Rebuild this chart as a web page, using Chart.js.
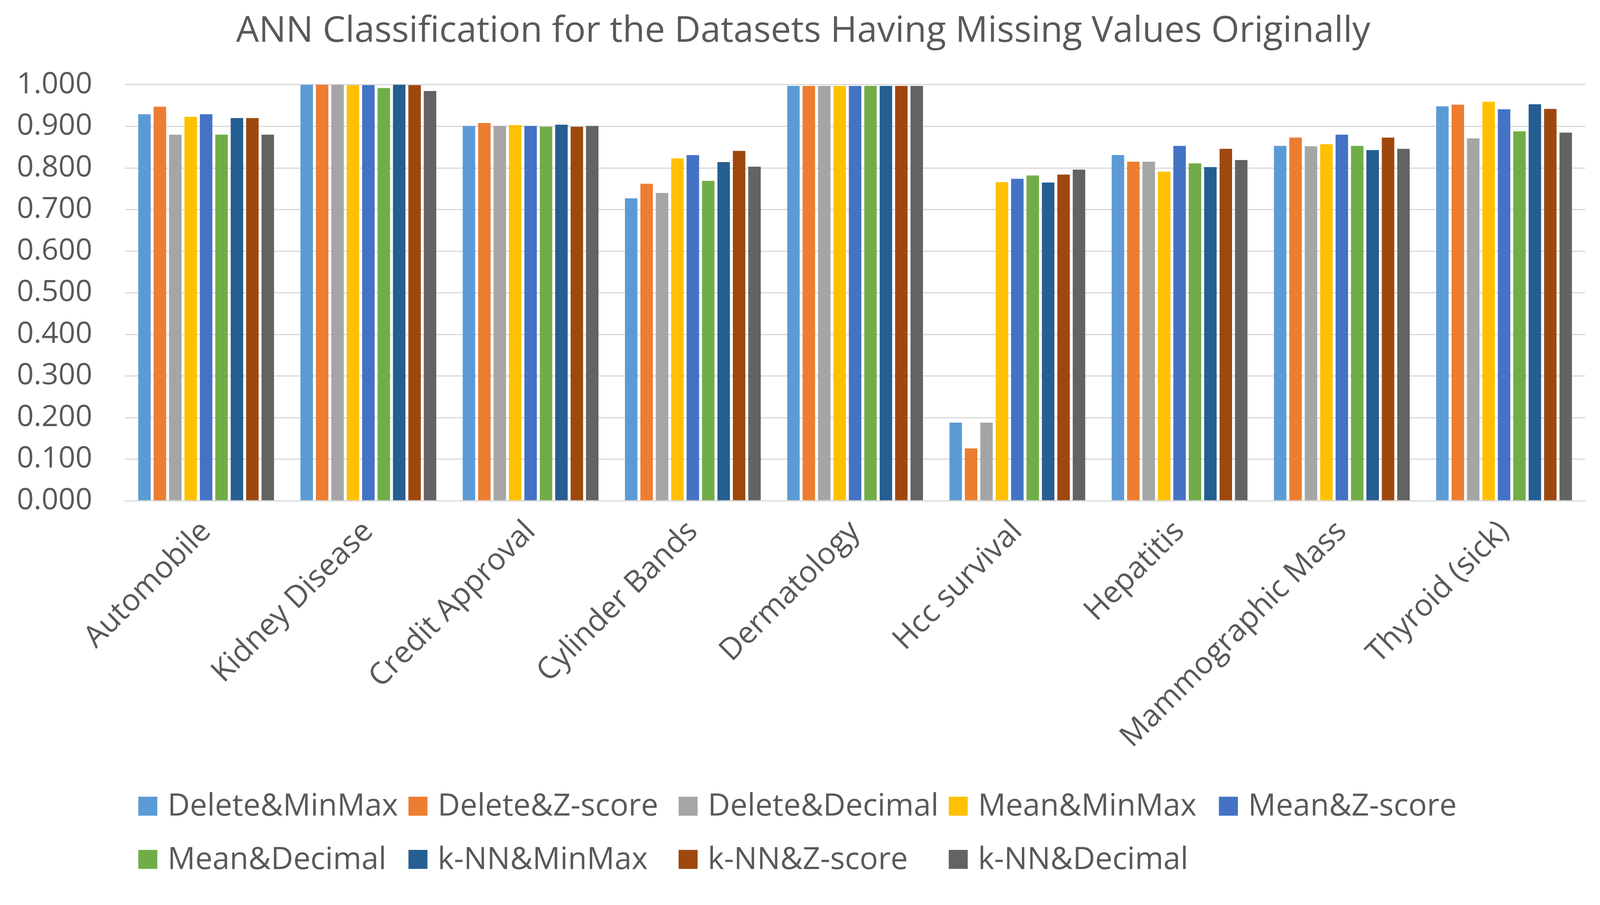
<!DOCTYPE html>
<html>
<head>
<meta charset="utf-8">
<script src="https://cdn.jsdelivr.net/npm/chart.js@4.4.0/dist/chart.umd.min.js"></script>
<style>
html,body{margin:0;padding:0;background:#fff;overflow:hidden;}
#wrap{position:relative;}
canvas{display:block;}
</style>
</head>
<body>
<div id="wrap"><canvas id="c"></canvas></div>
<script>
const chartTitle = 'ANN Classification for the Datasets Having Missing Values Originally';
const categories = ["Automobile","Kidney Disease","Credit Approval","Cylinder Bands","Dermatology","Hcc survival","Hepatitis","Mammographic Mass","Thyroid (sick)"];
const seriesNames = ["Delete&MinMax","Delete&Z-score","Delete&Decimal","Mean&MinMax","Mean&Z-score","Mean&Decimal","k-NN&MinMax","k-NN&Z-score","k-NN&Decimal"];
const deleteMinMax  = [0.929,1.000,0.901,0.727,0.997,0.188,0.831,0.853,0.948];
const deleteZscore  = [0.947,1.000,0.908,0.762,0.997,0.126,0.815,0.873,0.952];
const deleteDecimal = [0.880,1.000,0.901,0.740,0.997,0.188,0.815,0.852,0.871];
const meanMinMax    = [0.923,0.999,0.903,0.823,0.997,0.766,0.791,0.857,0.959];
const meanZscore    = [0.929,0.999,0.901,0.831,0.997,0.774,0.853,0.880,0.941];
const meanDecimal   = [0.880,0.992,0.899,0.769,0.997,0.782,0.811,0.853,0.888];
const knnMinMax     = [0.920,1.000,0.904,0.814,0.997,0.765,0.802,0.843,0.953];
const knnZscore     = [0.920,0.999,0.899,0.841,0.997,0.784,0.846,0.873,0.942];
const knnDecimal    = [0.880,0.985,0.901,0.803,0.997,0.796,0.819,0.846,0.885];
const yTicks = [0,0.1,0.2,0.3,0.4,0.5,0.6,0.7,0.8,0.9,1.0];

const seriesValues = [deleteMinMax,deleteZscore,deleteDecimal,meanMinMax,meanZscore,meanDecimal,knnMinMax,knnZscore,knnDecimal];
const colors = ["#5B9BD5","#ED7D31","#A5A5A5","#FFC000","#4472C4","#70AD47","#255E91","#9E480E","#636363"];
const FONT = "'Open Sans', sans-serif";
const TEXT = "#595959";

const W = window.innerWidth || 4211;
const s = W / 4211;
const H = Math.round(2317 * s);
const px = v => v * s;
const py = v => v * s;

const cv = document.getElementById('c');
cv.style.width = W + 'px';
cv.style.height = H + 'px';
cv.width = W; cv.height = H;

const textPlugin = {
  id: 'titleAndGridLegend',
  afterDraw(chart) {
    const ctx = chart.ctx;
    ctx.save();
    // title
    ctx.font = px(95) + "px " + FONT;
    ctx.fillStyle = TEXT;
    ctx.textAlign = 'center';
    ctx.textBaseline = 'middle';
    ctx.fillText(chartTitle, px(2114), py(83));
    // legend (grid of equal columns)
    ctx.font = px(81) + "px " + FONT;
    ctx.textAlign = 'left';
    chart.data.datasets.forEach((ds, i) => {
      const col = i % 5, row = Math.floor(i / 5);
      const x = px(364 + col * 711);
      const y = py(row === 0 ? 2122 : 2262);
      ctx.fillStyle = ds.backgroundColor;
      ctx.fillRect(x, y - px(25), px(50), px(50));
      ctx.fillStyle = TEXT;
      ctx.fillText(ds.label, x + px(77), y + px(2));
    });
    ctx.restore();
  }
};

new Chart(cv, {
  type: 'bar',
  data: {
    labels: categories,
    datasets: seriesNames.map((n, i) => ({
      label: n,
      data: seriesValues[i],
      backgroundColor: colors[i],
      borderWidth: 0,
      categoryPercentage: 0.855,
      barPercentage: 0.81
    }))
  },
  options: {
    responsive: false,
    animation: false,
    layout: { padding: { left: 0, right: px(39), top: py(223), bottom: py(299) } },
    plugins: {
      legend: { display: false },
      tooltip: { enabled: false },
      title: { display: false, text: chartTitle }
    },
    scales: {
      x: {
        grid: { display: false, drawTicks: false },
        border: { display: true, color: '#D9D9D9', width: px(3) },
        ticks: {
          color: TEXT,
          font: { family: FONT, size: px(80) },
          minRotation: 45, maxRotation: 45,
          padding: py(34),
          autoSkip: false
        },
        afterFit(scale) { scale.height = py(700); }
      },
      y: {
        min: 0, max: 1,
        afterBuildTicks(scale) { scale.ticks = yTicks.map(v => ({ value: v })); },
        grid: { color: '#D9D9D9', lineWidth: px(3), drawTicks: false },
        border: { display: false },
        ticks: {
          color: TEXT,
          font: { family: FONT, size: px(78) },
          padding: px(86),
          callback: v => Number(v).toFixed(3)
        },
        afterFit(scale) { scale.width = px(329); }
      }
    }
  },
  plugins: [textPlugin]
});
</script>
</body>
</html>
